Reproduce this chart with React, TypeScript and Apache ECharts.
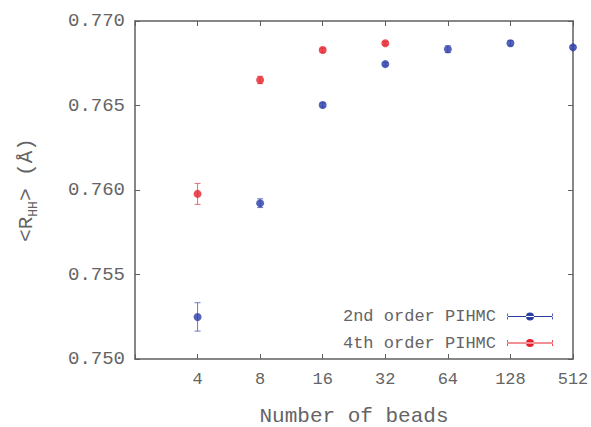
import React, { useEffect, useRef } from "react";
import * as echarts from "echarts";

const categories = ["", "4", "8", "16", "32", "64", "128", "512"];
// 2nd order PIHMC
const secondX = ["4", "8", "16", "32", "64", "128", "512"];
const secondY = [0.75249, 0.75922, 0.76503, 0.76745, 0.76833, 0.76868, 0.76844];
const secondErr = [0.00084, 0.00026, 0.00012, 0.0001, 0.0002, 0.00015, 0.0001];
// 4th order PIHMC
const fourthX = ["4", "8", "16", "32"];
const fourthY = [0.75977, 0.76651, 0.76828, 0.76868];
const fourthErr = [0.00062, 0.00022, 0.00012, 0.0001];

const yTicks = [0.75, 0.755, 0.76, 0.765, 0.77];

const BLUE = "#2a3ca6";
const BLUE_ERR = "#6f78c9";
const RED = "#e8202a";
const RED_ERR = "#e2707a";
const TEXT = "#646464";
const AXIS = "#5f5f5f";
const FONT = "'Liberation Mono', 'DejaVu Sans Mono', monospace";

const legendIcon =
  "path://M0,4.6h46v0.8h-46z M0,2v6h0.8v-6z M45.2,2v6h0.8v-6z M19,5a4,4 0 1,0 8,0a4,4 0 1,0 -8,0z";

function errSeries(name: string, xs: string[], ys: number[], es: number[], color: string) {
  return {
    type: "custom",
    name,
    data: xs.map((x, i) => [categories.indexOf(x), ys[i], es[i]]),
    encode: { x: 0, y: 1 },
    z: 2,
    renderItem: (params: any, api: any) => {
      const xi = api.value(0);
      const y = api.value(1);
      const e = api.value(2);
      const top = api.coord([xi, y + e]);
      const bot = api.coord([xi, y - e]);
      const cap = 3;
      const style = { stroke: color, lineWidth: 1 };
      return {
        type: "group",
        children: [
          { type: "line", shape: { x1: top[0], y1: top[1], x2: bot[0], y2: bot[1] }, style },
          { type: "line", shape: { x1: top[0] - cap, y1: top[1], x2: top[0] + cap, y2: top[1] }, style },
          { type: "line", shape: { x1: bot[0] - cap, y1: bot[1], x2: bot[0] + cap, y2: bot[1] }, style },
        ],
      };
    },
  };
}

export default function App() {
  const ref = useRef<HTMLDivElement>(null);
  useEffect(() => {
    if (!ref.current) return;
    const chart = echarts.init(ref.current, undefined, { renderer: "svg" });
    const axisLine = { show: true, lineStyle: { color: AXIS, width: 1.5 } };
    const tick = { show: true, inside: true, length: 5, lineStyle: { color: AXIS, width: 1 } };
    chart.setOption({
      animation: false,
      backgroundColor: "#ffffff",
      grid: {
        left: 135,
        width: 438,
        top: 21,
        height: 338,
        containLabel: false,
        outerBoundsMode: "none",
      },
      legend: {
        orient: "vertical",
        right: 33,
        top: 303,
        align: "right",
        itemWidth: 46,
        itemHeight: 8,
        itemGap: 9.5,
        textStyle: { fontFamily: FONT, fontSize: 17, color: TEXT, padding: [0, 6, 0, 0] },
        data: [
          { name: "2nd order PIHMC", icon: legendIcon, itemStyle: { color: BLUE } },
          { name: "4th order PIHMC", icon: legendIcon, itemStyle: { color: RED } },
        ],
      },
      xAxis: [
        {
          type: "category",
          data: categories,
          boundaryGap: false,
          position: "bottom",
          axisLine,
          axisTick: { ...tick, alignWithLabel: true },
          splitLine: { show: false },
          axisLabel: { fontFamily: FONT, fontSize: 17, color: TEXT, margin: 12 },
          name: "Number of beads",
          nameLocation: "middle",
          nameGap: 48,
          nameTextStyle: { fontFamily: FONT, fontSize: 21, color: TEXT, lineHeight: 19 },
        },
        {
          type: "category",
          data: categories,
          boundaryGap: false,
          position: "top",
          axisLine,
          axisTick: tick,
          axisLabel: { show: false },
          splitLine: { show: false },
        },
      ],
      yAxis: [
        {
          type: "value",
          min: yTicks[0],
          max: yTicks[yTicks.length - 1],
          interval: 0.005,
          position: "left",
          axisLine,
          axisTick: tick,
          splitLine: { show: false },
          axisLabel: {
            fontFamily: FONT,
            fontSize: 19,
            color: TEXT,
            margin: 10,
            formatter: (v: number) => v.toFixed(3),
          },
          name: "<R{sub|HH}> (Å)",
          nameLocation: "middle",
          nameGap: 95,
          nameRotate: 90,
          nameTextStyle: {
            fontFamily: FONT,
            fontSize: 21,
            color: TEXT,
            lineHeight: 28,
            rich: {
              sub: { fontFamily: FONT, fontSize: 13, color: TEXT, lineHeight: 14, verticalAlign: "bottom" },
            },
          },
        },
        {
          type: "value",
          min: yTicks[0],
          max: yTicks[yTicks.length - 1],
          interval: 0.005,
          position: "right",
          axisLine,
          axisTick: tick,
          axisLabel: { show: false },
          splitLine: { show: false },
        },
      ],
      series: [
        errSeries("2nd order PIHMC", secondX, secondY, secondErr, BLUE_ERR),
        errSeries("4th order PIHMC", fourthX, fourthY, fourthErr, RED_ERR),
        {
          type: "scatter",
          name: "2nd order PIHMC",
          data: secondX.map((x, i) => [categories.indexOf(x), secondY[i]]),
          symbol: "circle",
          symbolSize: 8,
          itemStyle: { color: BLUE },
          z: 3,
        },
        {
          type: "scatter",
          name: "4th order PIHMC",
          data: fourthX.map((x, i) => [categories.indexOf(x), fourthY[i]]),
          symbol: "circle",
          symbolSize: 8,
          itemStyle: { color: RED },
          z: 3,
        },
      ],
    });
    return () => chart.dispose();
  }, []);
  return (
    <div
      ref={ref}
      style={{ position: "fixed", left: 0, top: 0, width: 591, height: 427, background: "#fff" }}
    />
  );
}
